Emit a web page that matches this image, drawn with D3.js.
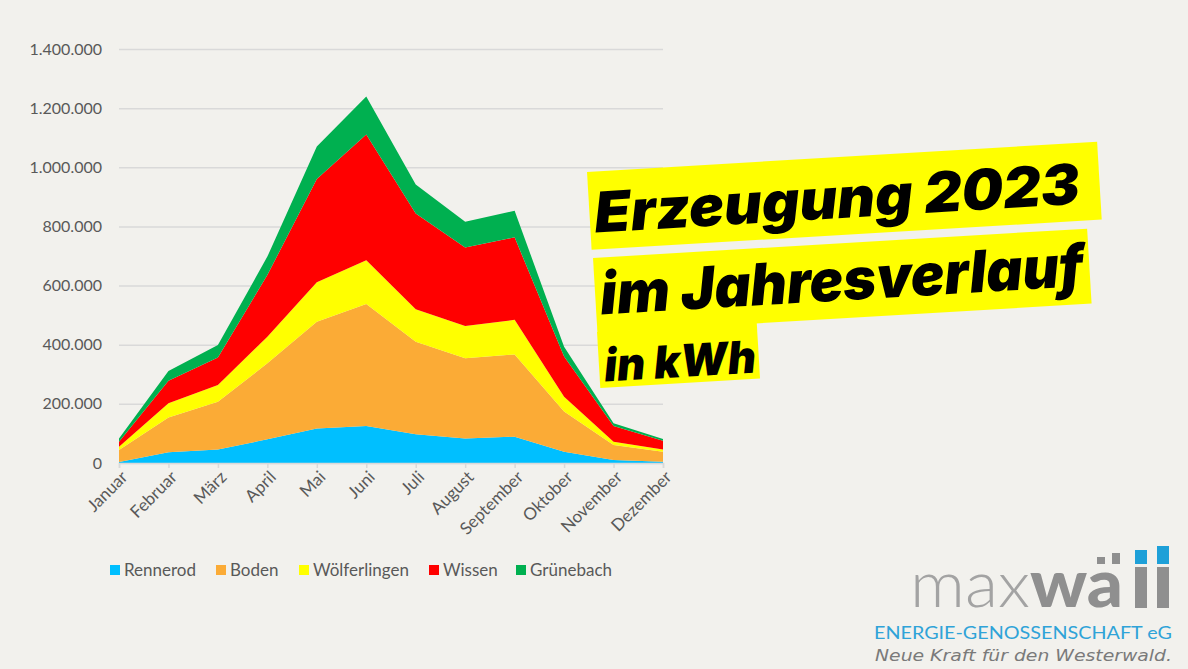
<!DOCTYPE html>
<html>
<head>
    <meta charset="UTF-8">
    <title>Erzeugung 2023</title>
    <script src="https://d3js.org/d3.v7.min.js"></script>
    <style type="text/css">
      body{ margin:0; background-color:#f2f1ed; }
      svg{ display:block; }
    </style>
</head>
<body>
    <svg id="chart"></svg>
    <script>
        const months = ["Januar","Februar","März","April","Mai","Juni","Juli","August","September","Oktober","November","Dezember"];
        const rennerod     = [3000, 36000, 46000, 80000, 117000, 125000, 97000, 83000, 89000, 38000, 10000, 4000];
        const boden        = [41000, 118000, 161000, 257000, 361000, 413000, 313000, 271000, 278000, 136000, 51000, 34000];
        const woelferlingen= [11000, 48000, 57000, 90000, 133000, 148000, 110000, 109000, 117000, 50000, 11000, 8000];
        const wissen       = [17000, 76000, 93000, 209000, 349000, 425000, 324000, 266000, 279000, 136000, 53000, 29000];
        const gruenebach   = [11000, 33000, 42000, 62000, 110000, 128000, 98000, 87000, 90000, 33000, 9000, 6000];
        const seriesNames  = ["Rennerod","Boden","Wölferlingen","Wissen","Grünebach"];
        const seriesColors = ["#00bfff","#fbab36","#ffff00","#ff0000","#00b050"];
        const yTicks = [0, 200000, 400000, 600000, 800000, 1000000, 1200000, 1400000];

        const width = 1188, height = 669;
        const plot = {left:119, right:663, top:49, bottom:463};
        const textGrey = "#595959";
        const labelFont = "Lato, 'Open Sans', sans-serif";

        const svg = d3.select("#chart").attr("width", width).attr("height", height);
        svg.append("rect").attr("width", width).attr("height", height).attr("fill", "#f2f1ed");

        const allSeries = [rennerod, boden, woelferlingen, wissen, gruenebach];
        const rows = months.map((m, i) => {
          const r = {month: m};
          seriesNames.forEach((s, j) => r[s] = allSeries[j][i]);
          return r;
        });

        const x = d3.scalePoint().domain(months).range([plot.left, plot.right]);
        const y = d3.scaleLinear().domain([0, 1400000]).range([plot.bottom, plot.top]);
        const color = d3.scaleOrdinal().domain(seriesNames).range(seriesColors);

        const de = d3.formatLocale({decimal:",", thousands:".", grouping:[3], currency:["","€"]});
        const fmt = de.format(",.0f");

        // grid + y labels
        const yAxis = svg.append("g")
          .attr("transform", `translate(${plot.left},0)`)
          .call(d3.axisLeft(y).tickValues(yTicks).tickFormat(fmt)
            .tickSize(-(plot.right - plot.left)).tickPadding(17));
        yAxis.select(".domain").remove();
        yAxis.selectAll(".tick line").attr("stroke", "#d9d9d9").attr("stroke-width", 1.5);
        yAxis.selectAll(".tick text").attr("fill", textGrey)
          .style("font-family", labelFont).style("font-size", "16px");

        // stacked areas
        const stack = d3.stack().keys(seriesNames);
        const layers = stack(rows);
        const area = d3.area()
          .x(d => x(d.data.month))
          .y0(d => y(d[0]))
          .y1(d => y(d[1]));
        svg.append("g").selectAll("path")
          .data(layers).enter().append("path")
          .attr("d", area)
          .attr("fill", d => color(d.key));

        // x axis
        const xAxis = svg.append("g")
          .attr("transform", `translate(0,${plot.bottom})`)
          .call(d3.axisBottom(x).tickSize(5).tickPadding(4));
        xAxis.select(".domain").attr("stroke", "#d9d9d9").attr("stroke-width", 1.5);
        xAxis.selectAll(".tick line").attr("stroke", "#d9d9d9").attr("stroke-width", 1.5);
        xAxis.selectAll(".tick text")
          .attr("fill", textGrey)
          .style("font-family", labelFont).style("font-size", "17px")
          .attr("text-anchor", "end")
          .attr("dy", "0.35em")
          .attr("transform", "translate(5,11) rotate(-45)")
          .attr("y", 0).attr("x", 0);

        // legend
        const legendX = [110, 216, 299, 429, 516];
        const legend = svg.append("g").selectAll("g")
          .data(seriesNames).enter().append("g")
          .attr("transform", (d, i) => `translate(${legendX[i]},570)`);
        legend.append("rect").attr("x", 0).attr("y", -5).attr("width", 10).attr("height", 10)
          .attr("fill", d => color(d));
        legend.append("text").attr("x", 14).attr("dy", "0.35em")
          .attr("fill", textGrey)
          .style("font-family", labelFont).style("font-size", "17px")
          .text(d => d);

        // title boxes
        const titles = [
          {text:"Erzeugung 2023", x:587, y:172, w:511, h:78, size:56, base:61, len:486},
          {text:"im Jahresverlauf", x:593, y:258, w:495, h:75, size:58, base:57, len:484},
          {text:"in kWh", x:597, y:332, w:160, h:56, size:45, base:50, len:152}
        ];
        const tg = svg.append("g").selectAll("g")
          .data(titles).enter().append("g")
          .attr("transform", d => `translate(${d.x},${d.y}) rotate(-3.4)`);
        tg.append("rect").attr("width", d => d.w).attr("height", d => d.h).attr("fill", "#ffff00");
        tg.append("text").attr("x", 5).attr("y", d => d.base)
          .attr("fill", "#000")
          .style("font-family", "Inter, Lato, sans-serif")
          .style("font-weight", 900).style("font-style", "italic")
          .style("font-size", d => d.size + "px")
          .attr("textLength", d => d.len).attr("lengthAdjust", "spacingAndGlyphs")
          .text(d => d.text);

        // logo
        const logo = svg.append("g");
        logo.append("text").attr("x", 910).attr("y", 607)
          .attr("fill", "#a3a3a3")
          .style("font-family", "Lato, sans-serif").style("font-weight", 300).style("font-size", "66px")
          .attr("textLength", 120).attr("lengthAdjust", "spacingAndGlyphs")
          .text("max");
        logo.append("text").attr("x", 1030).attr("y", 607)
          .attr("fill", "#8f8f8f")
          .style("font-family", "Lato, sans-serif").style("font-weight", 900).style("font-size", "66px")
          .attr("textLength", 93).attr("lengthAdjust", "spacingAndGlyphs")
          .text("wa");
        const bars = [
          {x:1097, y0:557, y1:564, w:8, c:"#8f8f8f"},
          {x:1112, y0:553, y1:564, w:8, c:"#8f8f8f"},
          {x:1135, y0:550, y1:564, w:12, c:"#1ea0d8"},
          {x:1157, y0:546, y1:564, w:12, c:"#1ea0d8"},
          {x:1135, y0:567, y1:608, w:12, c:"#8f8f8f"},
          {x:1157, y0:567, y1:608, w:12, c:"#8f8f8f"}
        ];
        logo.selectAll("rect").data(bars).enter().append("rect")
          .attr("x", d => d.x).attr("y", d => d.y0)
          .attr("width", d => d.w)
          .attr("height", d => d.y1 - d.y0).attr("fill", d => d.c);
        logo.append("text").attr("x", 874).attr("y", 639)
          .attr("fill", "#2fa3d8")
          .style("font-family", "Lato, sans-serif").style("font-weight", 400).style("font-size", "18px")
          .attr("textLength", 298).attr("lengthAdjust", "spacingAndGlyphs")
          .text("ENERGIE-GENOSSENSCHAFT eG");
        logo.append("text").attr("x", 875).attr("y", 661)
          .attr("fill", "#7a7a7a")
          .style("font-family", "'DejaVu Sans', sans-serif").style("font-style", "italic").style("font-weight", 300).style("font-size", "15px")
          .attr("textLength", 297).attr("lengthAdjust", "spacingAndGlyphs")
          .text("Neue Kraft für den Westerwald.");
    </script>
</body>
</html>
